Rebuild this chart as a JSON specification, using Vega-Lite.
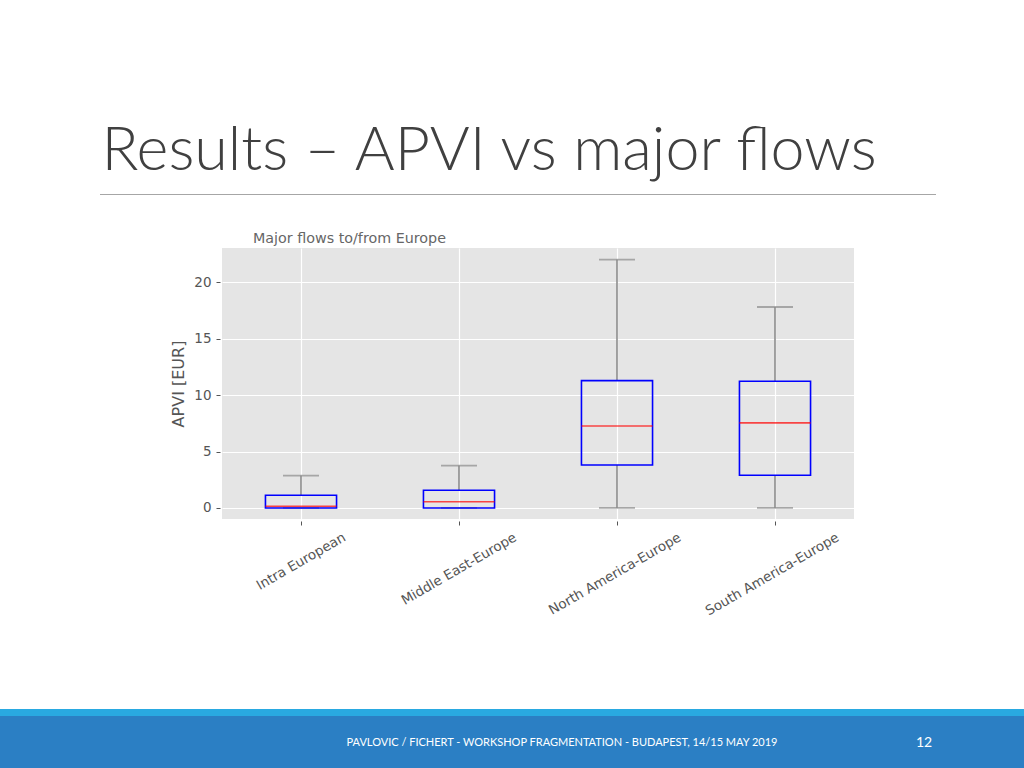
{
  "$schema": "https://vega.github.io/schema/vega-lite/v6.json",
  "background": "#ffffff",
  "padding": {"top": 121, "left": 0, "right": 0, "bottom": 0},
  "config": {"view": {"stroke": null}},
  "spacing": 91,
  "vconcat": [
    {
      "spacing": 36,
      "vconcat": [
        {
          "spacing": 0,
          "hconcat": [
            {"width": 100, "height": 1, "data": {"values": []}, "mark": "point", "encoding": {}},
            {
              "width": 836,
              "height": 1,
              "view": {"fill": "#a6a6a6", "stroke": null},
              "data": {"values": []},
              "mark": "point",
              "encoding": {},
              "title": {
                "text": "Results – APVI vs major flows",
                "anchor": "start",
                "frame": "group",
                "dx": 1.5,
                "font": "Lato",
                "fontWeight": 300,
                "fontSize": 61,
                "color": "#404040",
                "baseline": "bottom",
                "offset": -50
              }
            }
          ]
        },
        {
          "spacing": 0,
          "hconcat": [
            {"width": 170, "height": 1, "data": {"values": []}, "mark": "point", "encoding": {}},
            {
              "width": 632,
              "height": 271,
              "view": {"fill": "#e5e5e5", "stroke": null},
              "title": {
                "text": "Major flows to/from Europe",
                "anchor": "start",
                "frame": "group",
                "dx": 31,
                "font": "DejaVu Sans",
                "fontWeight": "normal",
                "fontSize": 14.3,
                "color": "#666666",
                "offset": 2
              },
              "data": {
                "values": [
                  {"flow": "Intra European", "min": 0, "q1": 0, "median": 0.15, "q3": 1.13, "max": 2.87},
                  {"flow": "Middle East-Europe", "min": 0, "q1": 0, "median": 0.55, "q3": 1.57, "max": 3.76},
                  {"flow": "North America-Europe", "min": 0, "q1": 3.81, "median": 7.27, "q3": 11.29, "max": 22.02},
                  {"flow": "South America-Europe", "min": 0, "q1": 2.9, "median": 7.54, "q3": 11.23, "max": 17.82}
                ]
              },
              "encoding": {
                "x": {
                  "field": "flow",
                  "type": "nominal",
                  "sort": null,
                  "scale": {"paddingInner": 0, "paddingOuter": 0},
                  "axis": {
                    "title": null,
                    "grid": true,
                    "gridColor": "#ffffff",
                    "gridWidth": 1.2,
                    "domain": false,
                    "tickColor": "#555555",
                    "tickSize": 4,
                    "offset": 2,
                    "labelAngle": -30,
                    "labelAlign": "right",
                    "labelBaseline": "top",
                    "labelPadding": 5,
                    "labelOffset": {"expr": "0.433*7.45*length(datum.value) - 5"},
                    "labelFont": "DejaVu Sans",
                    "labelFontSize": 13.5,
                    "labelColor": "#555555",
                    "labelOverlap": false,
                    "labelLimit": 0
                  }
                }
              },
              "layer": [
                {
                  "mark": {"type": "rule", "color": "#8c8c8c", "strokeWidth": 1.6},
                  "encoding": {
                    "y": {
                      "field": "q3",
                      "type": "quantitative",
                      "title": "APVI [EUR]",
                      "scale": {"domain": [-0.98, 23.05], "nice": false, "zero": false},
                      "axis": {
                        "titleFont": "DejaVu Sans",
                        "titleFontSize": 16,
                        "titleFontWeight": "normal",
                        "titleColor": "#555555",
                        "titlePadding": 7,
                        "values": [0, 5, 10, 15, 20],
                        "grid": true,
                        "gridColor": "#ffffff",
                        "gridWidth": 1.2,
                        "domain": false,
                        "tickColor": "#555555",
                        "tickSize": 4,
                        "offset": 2,
                        "labelFont": "DejaVu Sans",
                        "labelFontSize": 13.5,
                        "labelColor": "#555555",
                        "labelPadding": 5
                      }
                    },
                    "y2": {"field": "max"}
                  }
                },
                {
                  "mark": {"type": "rule", "color": "#8c8c8c", "strokeWidth": 1.6},
                  "encoding": {
                    "y": {"field": "min", "type": "quantitative", "title": "APVI [EUR]", "scale": {"domain": [-0.98, 23.05], "nice": false, "zero": false}},
                    "y2": {"field": "q1"}
                  }
                },
                {
                  "mark": {"type": "tick", "color": "#8c8c8c", "size": 36, "thickness": 1.8},
                  "encoding": {
                    "y": {"field": "max", "type": "quantitative", "title": "APVI [EUR]", "scale": {"domain": [-0.98, 23.05], "nice": false, "zero": false}}
                  }
                },
                {
                  "mark": {"type": "tick", "color": "#8c8c8c", "size": 36, "thickness": 1.8},
                  "encoding": {
                    "y": {"field": "min", "type": "quantitative", "title": "APVI [EUR]", "scale": {"domain": [-0.98, 23.05], "nice": false, "zero": false}}
                  }
                },
                {
                  "mark": {"type": "bar", "filled": false, "color": "#0000ff", "strokeWidth": 1.6, "width": {"band": 0.45}},
                  "encoding": {
                    "y": {"field": "q1", "type": "quantitative", "title": "APVI [EUR]", "scale": {"domain": [-0.98, 23.05], "nice": false, "zero": false}},
                    "y2": {"field": "q3"}
                  }
                },
                {
                  "mark": {"type": "tick", "color": "#ff0000", "size": 71, "thickness": 1.6},
                  "encoding": {
                    "y": {"field": "median", "type": "quantitative", "title": "APVI [EUR]", "scale": {"domain": [-0.98, 23.05], "nice": false, "zero": false}}
                  }
                }
              ]
            }
          ]
        }
      ]
    },
    {
      "spacing": 0,
      "vconcat": [
        {"width": 1024, "height": 7, "view": {"fill": "#29a9e1", "stroke": null}, "data": {"values": []}, "mark": "point", "encoding": {}},
        {
          "width": 1024,
          "height": 52,
          "view": {"fill": "#2b7fc4", "stroke": null},
          "data": {"values": [{"credit": "PAVLOVIC / FICHERT - WORKSHOP FRAGMENTATION - BUDAPEST, 14/15 MAY 2019", "page": "12"}]},
          "layer": [
            {
              "mark": {"type": "text", "font": "Lato", "fontSize": 11, "color": "#ffffff", "align": "center", "baseline": "middle", "dx": 50, "dy": 1},
              "encoding": {"text": {"field": "credit"}}
            },
            {
              "mark": {"type": "text", "font": "Lato", "fontSize": 14, "color": "#ffffff", "align": "center", "baseline": "middle", "dx": 412, "dy": 1},
              "encoding": {"text": {"field": "page"}}
            }
          ]
        }
      ]
    }
  ]
}
